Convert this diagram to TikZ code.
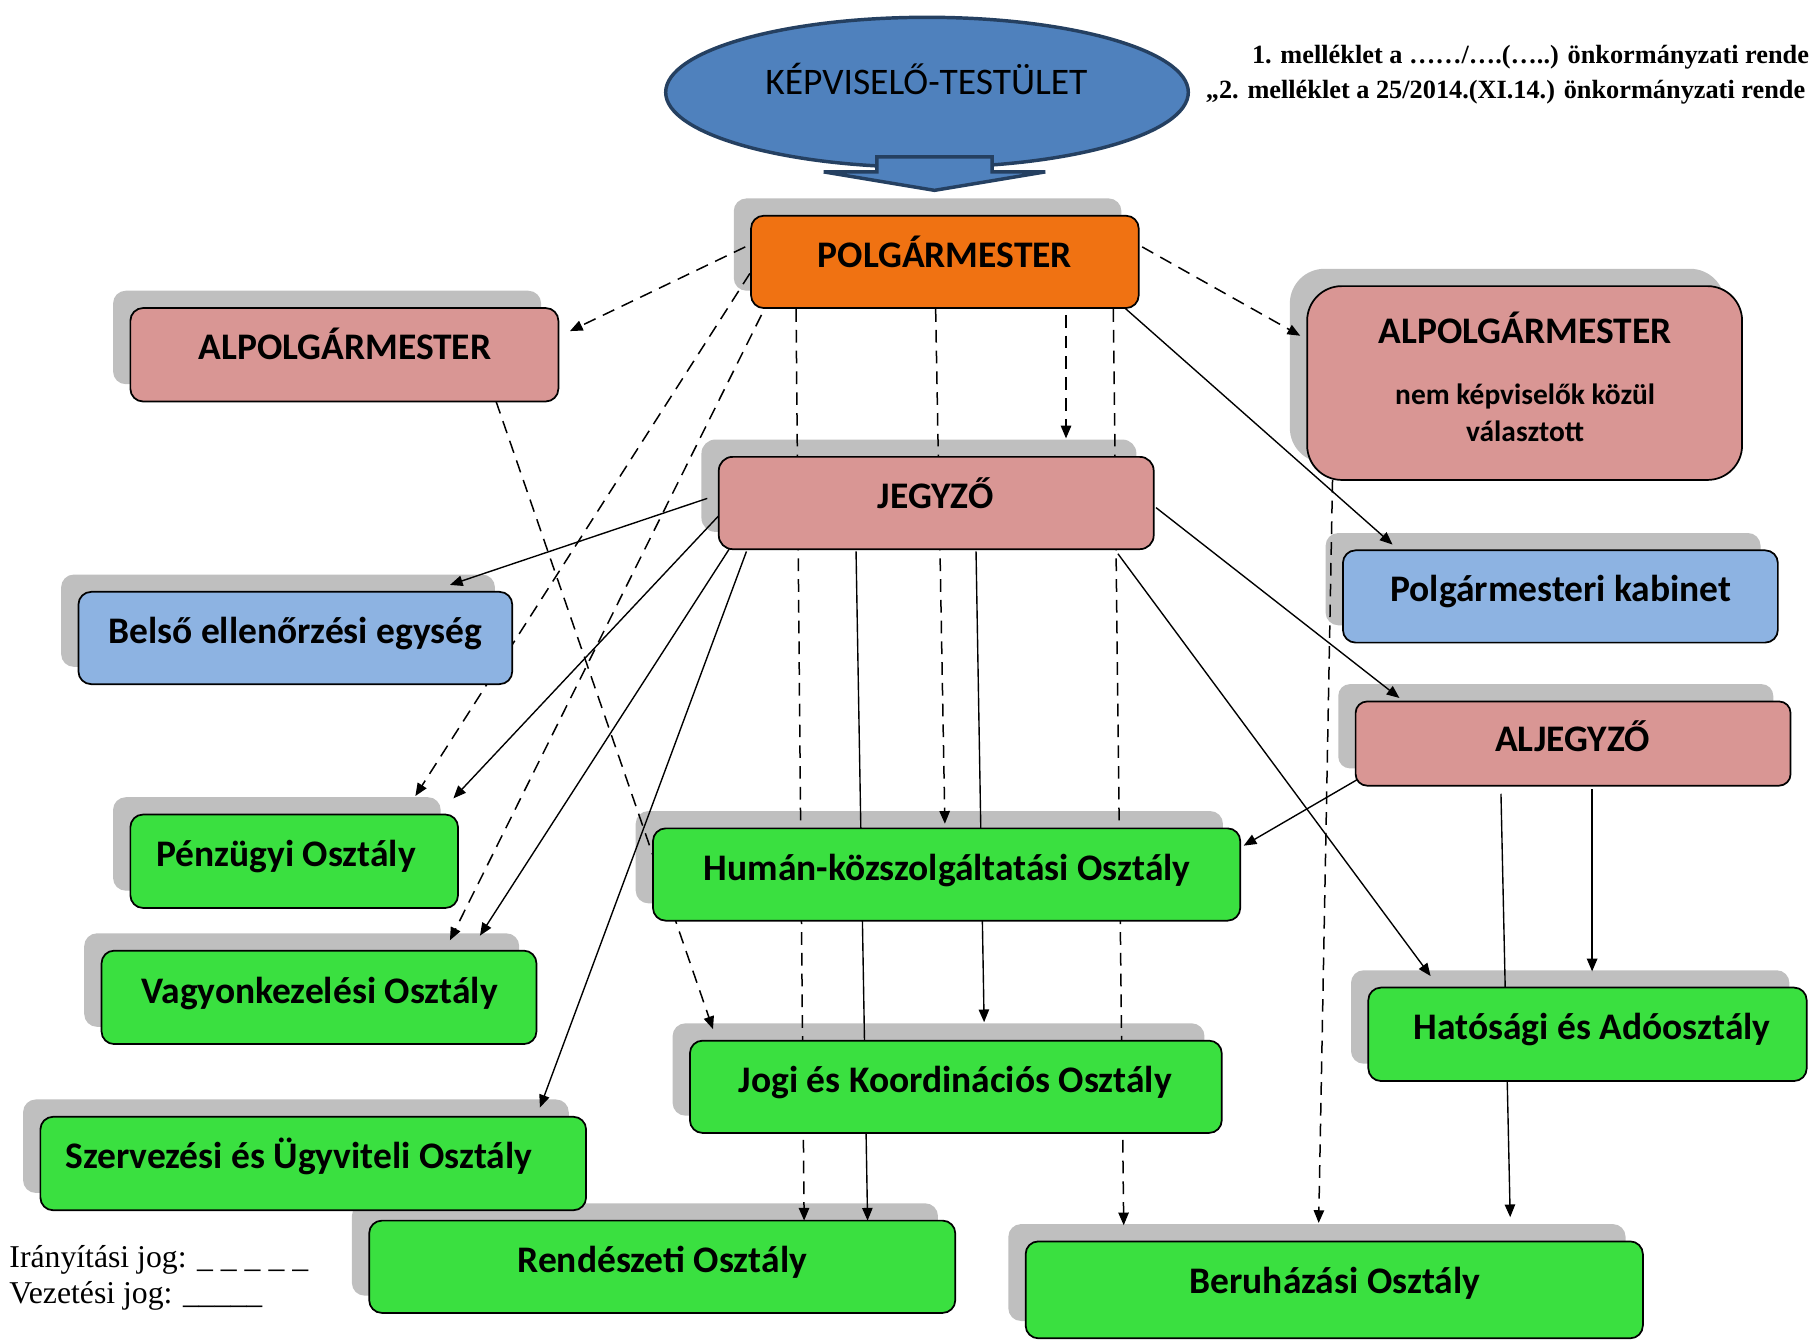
\documentclass[tikz,border=0pt]{standalone}
\usepackage{fontspec}
\setmainfont{Liberation Serif}
\newfontfamily\calib{Carlito}
\usetikzlibrary{shapes.geometric,arrows.meta,calc}
\definecolor{orangeC}{RGB}{240,114,18}
\definecolor{pinkC}{RGB}{217,150,148}
\definecolor{blueC}{RGB}{141,179,226}
\definecolor{greenC}{RGB}{58,224,64}
\definecolor{shadowC}{RGB}{191,191,191}
\definecolor{ellC}{RGB}{79,129,189}
\definecolor{ellB}{RGB}{37,64,97}
\pgfdeclarelayer{bg}\pgfdeclarelayer{mid}\pgfsetlayers{bg,mid,main}
\newcommand\orgbox[7]{%
  \node[box,fill=#6,rounded corners=#7pt,minimum width=#4pt,minimum height=#5pt] (#1) at (#2,#3) {};
  \begin{pgfonlayer}{bg}
    \node[shad,rounded corners=#7pt,minimum width=#4pt,minimum height=#5pt] (#1s) at ([shift={(-15,-15)}]#1.center) {};
  \end{pgfonlayer}}
\begin{document}
\begin{tikzpicture}[x=1pt,y=-1pt,
  box/.style={draw=black,line width=1.5pt,inner sep=0pt,outer sep=0pt,rectangle},
  shad/.style={fill=shadowC,inner sep=0pt,outer sep=0pt,rectangle},
  btext/.style={font=\calib\bfseries\fontsize{32.5}{36}\selectfont,inner sep=0pt,anchor=base},
  stext/.style={font=\calib\bfseries\fontsize{25.5}{29}\selectfont,inner sep=0pt,anchor=base},
  ctrl/.style={dash pattern=on 11pt off 7pt,line width=1.3pt,-{Triangle[length=11pt,width=9pt]}},
  lead/.style={line width=1.2pt,-{Triangle[length=11pt,width=9pt]}},
]
\useasboundingbox (0,0) rectangle (1568,1164);

% ---- top ellipse with block arrow
\node[ellipse,draw=ellB,fill=ellC,line width=3pt,minimum width=453pt,minimum height=130pt,inner sep=0pt] (kt) at (803.5,80) {};
\draw[fill=ellC,draw=ellB,line width=3pt,line join=miter]
  (760,136) -- (860,136) -- (860,149) -- (906,149) -- (810,165) -- (714,149) -- (760,149) -- cycle;
\node[font=\calib\fontsize{32.5}{36}\selectfont,inner sep=0pt,anchor=base] (kt-t) at (803,82) {KÉPVISELŐ-TESTÜLET};

% ---- header text
\node[anchor=base west,inner sep=0pt,font=\bfseries\fontsize{22.8}{26}\selectfont] (n1) at (1085,55) {1. melléklet a ……/….(…..) önkormányzati rende};
\node[anchor=base west,inner sep=0pt,font=\bfseries\fontsize{22.8}{26}\selectfont] (n2) at (1045,85) {„2. melléklet a 25/2014.(XI.14.) önkormányzati rende};

% ---- boxes
\orgbox{pm}{819}{227}{336}{80}{orangeC}{11}
\orgbox{alpL}{298.5}{307.5}{371}{81}{pinkC}{11}
\orgbox{alpR}{1321.5}{332}{377}{168}{pinkC}{30}
\orgbox{jegy}{811.5}{436}{377}{80}{pinkC}{12}
\orgbox{belso}{256}{553}{376}{80}{blueC}{11}
\orgbox{kab}{1352.5}{517}{377}{80}{blueC}{11}
\orgbox{alj}{1363.5}{644.5}{377}{73}{pinkC}{10}
\orgbox{penz}{255}{746.5}{284}{81}{greenC}{11}
\orgbox{human}{820.5}{758}{509}{80}{greenC}{11}
\orgbox{vagy}{276.5}{864.5}{377}{81}{greenC}{11}
\orgbox{hat}{1376}{896.5}{380}{81}{greenC}{11}
\orgbox{jogi}{828.5}{942}{461}{80}{greenC}{11}
\orgbox{szerv}{271.5}{1008.5}{473}{81}{greenC}{11}
\orgbox{rend}{574}{1098}{508}{80}{greenC}{11}
\orgbox{ber}{1156.5}{1118}{535}{84}{greenC}{11}

% ---- box texts
\node[btext] (pm-t) at (819,232) {POLGÁRMESTER};
\node[btext] (alpL-t) at (299,312) {ALPOLGÁRMESTER};
\node[btext] (alpR-t) at (1322,298) {ALPOLGÁRMESTER};
\node[stext] (alpR-t2) at (1322,351) {nem képviselők közül};
\node[stext] (alpR-t3) at (1322,383) {választott};
\node[btext] (jegy-t) at (811,441) {JEGYZŐ};
\node[btext] (belso-t) at (256,558) {Belső ellenőrzési egység};
\node[btext] (kab-t) at (1353,521) {Polgármesteri kabinet};
\node[btext] (alj-t) at (1363,651) {ALJEGYZŐ};
\node[btext] (penz-t) at (248,751) {Pénzügyi Osztály};
\node[btext] (human-t) at (821,763) {Humán-közszolgáltatási Osztály};
\node[btext] (vagy-t) at (277,870) {Vagyonkezelési Osztály};
\node[btext] (hat-t) at (1380,901) {Hatósági és Adóosztály};
\node[btext] (jogi-t) at (828,947) {Jogi és Koordinációs Osztály};
\node[btext] (szerv-t) at (259,1013) {Szervezési és Ügyviteli Osztály};
\node[btext] (rend-t) at (574,1103) {Rendészeti Osztály};
\node[btext] (ber-t) at (1157,1121) {Beruházási Osztály};

% ---- legend
\node[anchor=base west,inner sep=0pt,font=\fontsize{27.5}{32}\selectfont] (lg1) at (8,1099) {Irányítási jog: \_ \_ \_ \_ \_};
\node[anchor=base west,inner sep=0pt,font=\fontsize{27.5}{32}\selectfont] (lg2) at (8,1130) {Vezetési jog: \_\_\_\_\_};

% ---- connectors
\begin{pgfonlayer}{mid}
% control (dashed)
\draw[ctrl] ([shift={(-5,-13)}]pm.west) -- ([shift={(10,20)}]alpL.north east);
\draw[ctrl] ([shift={(3,-13)}]pm.east) -- ([shift={(-6,-41)}]alpR.west);
\draw[ctrl] ([shift={(-1,10)}]pm.west) -- ([shift={(105,-16)}]penz.north);
\draw[ctrl] ([shift={(9,6)}]pm.south west) -- ([shift={(113.5,-9)}]vagy.north);
\draw[ctrl] ([shift={(39,1)}]pm.south west) -- ([shift={(123,0)}]rend.north);
\draw[ctrl] ([shift={(-8,1)}]pm.south) -- ([shift={(-1.5,-4)}]human.north);
\draw[ctrl] ([shift={(105,6)}]pm.south) -- ([shift={(112.5,-16)}]jegy.north);
\draw[ctrl] ([shift={(-22,1)}]pm.south east) -- ([shift={(-182.5,-14)}]ber.north);
\draw[ctrl] ([shift={(131.5,0)}]alpL.south) -- ([shift={(20,-10)}]jogi.north west);
\draw[ctrl] ([shift={(22,0)}]alpR.south west) -- ([shift={(-13.5,-16)}]ber.north);
% leadership (solid)
\draw[lead] ([shift={(-12,0)}]pm.south east) -- ([shift={(43,-5)}]kab.north west);
\draw[lead] ([shift={(-10,-4)}]jegy.west) -- ([shift={(-54,-6)}]belso.north east);
\draw[lead] ([shift={(0,11)}]jegy.west) -- ([shift={(-4,-14)}]penz.north east);
\draw[lead] ([shift={(9,0)}]jegy.south west) -- ([shift={(139.5,-13)}]vagy.north);
\draw[lead] ([shift={(24,2)}]jegy.south west) -- ([shift={(-40,-8)}]szerv.north east);
\draw[lead] ([shift={(-69.5,2)}]jegy.south) -- ([shift={(178,0)}]rend.north);
\draw[lead] ([shift={(34.5,2)}]jegy.south) -- ([shift={(24.5,-16)}]jogi.north);
\draw[lead] ([shift={(-31,4)}]jegy.south east) -- ([shift={(54,-10)}]hat.north west);
\draw[lead] ([shift={(2,4)}]jegy.east) -- ([shift={(38,-3)}]alj.north west);
\draw[lead] ([shift={(1,-5)}]alj.south west) -- ([shift={(3,15)}]human.north east);
\draw[lead] ([shift={(16.5,3)}]alj.south) -- ([shift={(4,-14)}]hat.north);
\draw[lead] ([shift={(-62.5,7)}]alj.south) -- ([shift={(-115,-21)}]ber.north east);
\end{pgfonlayer}
\end{tikzpicture}
\end{document}
